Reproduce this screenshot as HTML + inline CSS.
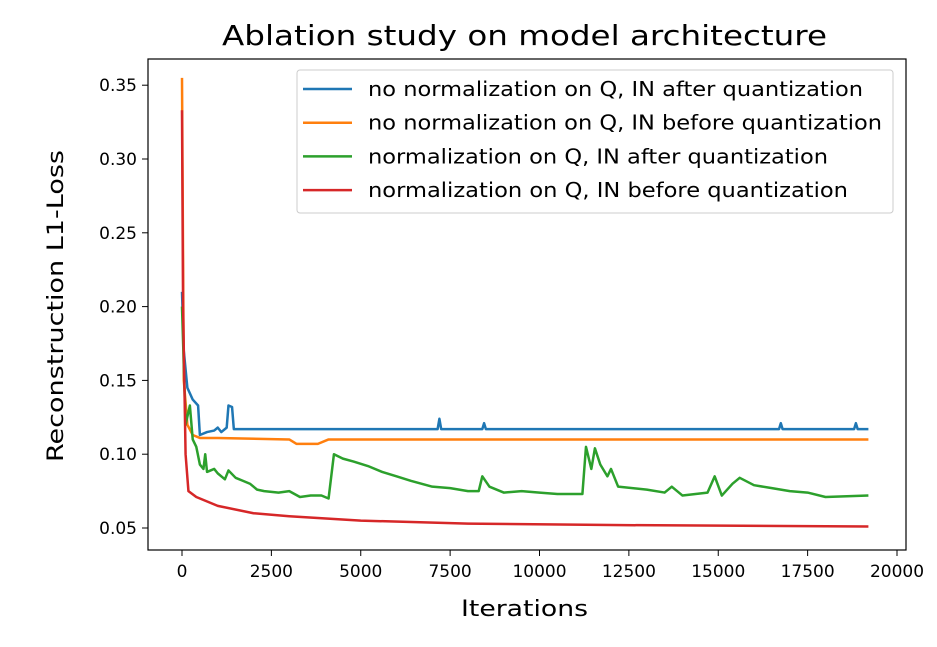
<!DOCTYPE html>
<html><head><meta charset="utf-8"><style>body{margin:0;background:#fff}svg{display:block;font-family:"DejaVu Sans","Liberation Sans",sans-serif}</style></head>
<body>
<svg id="c" width="937" height="647"></svg>
<script>
const xTicks=[0,2500,5000,7500,10000,12500,15000,17500,20000];
const yTicks=[0.05,0.10,0.15,0.20,0.25,0.30,0.35];
const seriesNames=["no normalization on Q, IN after quantization","no normalization on Q, IN before quantization","normalization on Q, IN after quantization","normalization on Q, IN before quantization"];
const legendWidths=[495,514,460,480];
const blueData=[[0,0.21],[50,0.17],[150,0.145],[300,0.137],[450,0.133],[500,0.113],[700,0.115],[900,0.116],[1000,0.118],[1100,0.115],[1250,0.118],[1300,0.133],[1400,0.132],[1450,0.117],[3000,0.117],[5000,0.117],[7150,0.117],[7200,0.124],[7250,0.117],[8400,0.117],[8450,0.121],[8500,0.117],[11200,0.117],[16700,0.117],[16750,0.121],[16800,0.117],[18800,0.117],[18850,0.121],[18900,0.117],[19200,0.117]];
const orangeData=[[0,0.355],[50,0.15],[150,0.12],[300,0.113],[500,0.111],[1000,0.111],[3000,0.110],[3200,0.107],[3800,0.107],[4100,0.110],[10000,0.110],[19200,0.110]];
const greenData=[[0,0.2],[100,0.12],[220,0.133],[300,0.11],[400,0.105],[500,0.093],[600,0.09],[650,0.1],[700,0.088],[900,0.09],[1000,0.087],[1200,0.083],[1300,0.089],[1500,0.084],[1700,0.082],[1900,0.08],[2100,0.076],[2300,0.075],[2700,0.074],[3000,0.075],[3300,0.071],[3600,0.072],[3900,0.072],[4100,0.07],[4250,0.1],[4500,0.097],[4800,0.095],[5200,0.092],[5600,0.088],[6000,0.085],[6400,0.082],[7000,0.078],[7500,0.077],[8000,0.075],[8300,0.075],[8400,0.085],[8600,0.078],[9000,0.074],[9500,0.075],[10000,0.074],[10500,0.073],[11000,0.073],[11200,0.073],[11300,0.105],[11450,0.09],[11550,0.104],[11700,0.093],[11900,0.085],[12000,0.09],[12200,0.078],[13000,0.076],[13500,0.074],[13700,0.078],[14000,0.072],[14700,0.074],[14900,0.085],[15100,0.072],[15400,0.08],[15600,0.084],[16000,0.079],[16500,0.077],[17000,0.075],[17500,0.074],[18000,0.071],[19200,0.072]];
const redData=[[0,0.333],[30,0.2],[100,0.1],[180,0.075],[400,0.071],[1000,0.065],[2000,0.06],[3000,0.058],[5000,0.055],[8000,0.053],[12000,0.052],[19200,0.051]];
const colors=["#1f77b4","#ff7f0e","#2ca02c","#d62728"];
const ns="http://www.w3.org/2000/svg",svg=document.getElementById('c');
const X=v=>182+v*715/20000, Y=v=>528-(v-0.05)*1476;
function mk(t,a,p){const e=document.createElementNS(ns,t);for(const k in a)e.setAttribute(k,a[k]);(p||svg).appendChild(e);return e;}
let t=mk('text',{x:222,y:45,'font-size':28,textLength:605,lengthAdjust:'spacingAndGlyphs',fill:'#000'});t.textContent="Ablation study on model architecture";


[blueData,orangeData,greenData,redData].forEach((d,i)=>{
 const p=mk('polyline',{points:d.map(q=>X(q[0])+','+Y(q[1])).join(' '),fill:'none',stroke:colors[i],'stroke-width':2.5,'stroke-linejoin':'round'});
 
 
});
const fr=mk('rect',{x:148,y:59,width:758,height:491,fill:'none',stroke:'#000','stroke-width':1.2});


xTicks.forEach(v=>{mk('line',{x1:X(v),x2:X(v),y1:550,y2:556,stroke:'#000'});
 const l=mk('text',{x:X(v),y:577,'text-anchor':'middle','font-size':17});l.textContent=v;
 
 });
yTicks.forEach(v=>{mk('line',{x1:142,x2:148,y1:Y(v),y2:Y(v),stroke:'#000'});
 const l=mk('text',{x:137,y:Y(v)+6,'text-anchor':'end','font-size':17});l.textContent=v.toFixed(2);
 
 });
t=mk('text',{x:461,y:616,'font-size':22,textLength:127,lengthAdjust:'spacingAndGlyphs'});t.textContent="Iterations";


t=mk('text',{x:0,y:0,'font-size':22,textLength:312,lengthAdjust:'spacingAndGlyphs',transform:'translate(63,462) rotate(-90)'});t.textContent="Reconstruction L1-Loss";


const lg=mk('g',{});


mk('rect',{x:297,y:70,width:596,height:143,rx:3,fill:'#fff','fill-opacity':0.8,stroke:'#ccc'},lg);
seriesNames.forEach((n,i)=>{const y=89+i*33.7;
 const g=mk('g',{},lg);
 
 
 mk('line',{x1:303,x2:352,y1:y,y2:y,stroke:colors[i],'stroke-width':2.5},g);
 const tx=mk('text',{x:368,y:y+7,'font-size':20,textLength:legendWidths[i],lengthAdjust:'spacingAndGlyphs'},g);tx.textContent=n;});
</script>
</body></html>
